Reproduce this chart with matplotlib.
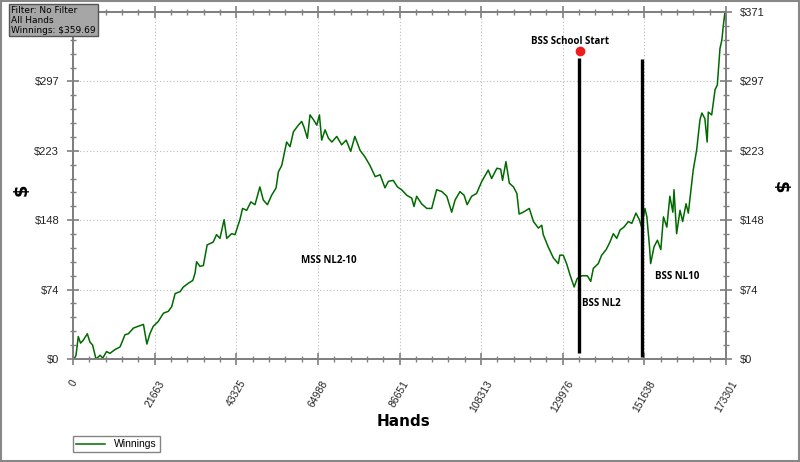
import matplotlib
matplotlib.use("Agg")
import matplotlib.pyplot as plt
from matplotlib.ticker import MultipleLocator, FixedLocator
import numpy as np

# winnings curve (hands, dollars)
hands = [300, 800, 1400, 2000, 2700, 3800, 4500, 5200, 6100, 7200, 7900, 8900, 9800,
         11100, 12500, 13800, 14700, 16000, 17300, 18700, 19600, 20400, 21300, 22600,
         24000, 25300, 26200, 27100, 28400, 29300, 30600, 31800, 32400, 32800, 33700,
         34600, 35600, 37200, 38100, 39000, 40100, 40800, 42100, 43000, 44300, 45000,
         46100, 47200, 48300, 49600, 50500, 51600, 52700, 53900, 54500, 55400, 56700,
         57600, 58500, 59800, 60700, 61300, 62200, 62900, 63800, 64700, 65400, 66000,
         66900, 67800, 68700, 70000, 71300, 72500, 73700, 74800, 76200, 77500, 78800,
         80200, 81500, 82800, 83700, 85000, 86100, 87200, 88600, 89900, 90500, 91200,
         92500, 93900, 95200, 96500, 97900, 99200, 100500, 101400, 102700, 103800,
         104600, 105800, 107100, 108500, 110200, 111100, 112500, 113500, 114000,
         114900, 115800, 116900, 117800, 118400, 119500, 121100, 122200, 123500,
         124400, 124800, 126100, 127500, 128800, 129200, 130100, 131000, 131900,
         133000, 133800, 135000, 136500, 137400, 138100, 139400, 140300, 141500,
         142500, 143400, 144300, 145200, 146200, 147400, 148300, 149400, 150300,
         150900, 151800, 152300, 153000, 153300, 154200, 155100, 156000, 156700,
         157600, 158400, 159200, 159500, 160200, 161100, 161800, 162700, 163300,
         163900, 164600, 165500, 166400, 166900, 167700, 168300, 168600, 169500,
         170400, 171000, 171700, 172200, 172600, 173000, 173301]
winnings = [0, 4, 24, 17, 20, 27, 18, 15, 0, 4, 1, 8, 6,
            10, 13, 26, 27, 33, 35, 37, 16, 27, 35, 40,
            49, 51, 56, 70, 72, 77, 81, 84, 92, 104, 99,
            100, 122, 125, 133, 129, 149, 129, 134, 133, 149, 161,
            159, 168, 165, 184, 170, 165, 175, 183, 200, 207, 232,
            227, 243, 250, 254, 248, 236, 261, 256, 250, 261, 234,
            245, 236, 232, 238, 229, 234, 222, 238, 223, 216, 207,
            195, 197, 183, 190, 191, 184, 181, 175, 172, 163, 174,
            166, 161, 161, 181, 179, 174, 157, 170, 179, 175,
            165, 174, 177, 190, 202, 193, 204, 203, 191,
            211, 188, 184, 177, 155, 157, 161, 147, 140,
            143, 133, 120, 108, 102, 111, 111, 102, 90,
            77, 86, 89, 89, 83, 97, 102, 111, 117,
            125, 134, 129, 138, 141, 147, 145, 156, 149,
            141, 161, 152, 120, 102, 120, 127, 117, 152,
            141, 174, 157, 181, 134, 159, 147, 166, 156,
            177, 202, 223, 256, 263, 257, 232, 264, 261,
            288, 293, 332, 341, 357, 370, 360]

x_ticks = [0, 21663, 43325, 64988, 86651, 108313, 129976, 151638, 173301]
y_ticks = [0, 74.2, 148.4, 222.6, 296.8, 371]
y_labels = ["$0", "$74", "$148", "$223", "$297", "$371"]

marker_hands = [134300, 151000]
marker_top = [322, 321]
marker_bottom = [6, 2]
notes = [("BSS School Start", 132000, 340), ("MSS NL2-10", 68000, 105),
         ("BSS NL2", 140100, 59), ("BSS NL10", 160300, 88)]
school_dot = (134600, 329)

tick_font = "Liberation Sans"

fig = plt.figure(figsize=(8, 4.62), dpi=100)
ax = fig.add_axes([0.09125, 0.2229, 0.81625, 0.7511])
ax2 = ax.twinx()

ax.plot(hands, winnings, color="#006a00", lw=1.1, label="Winnings", zorder=3)
ax.vlines(marker_hands, marker_bottom, marker_top, color="black", lw=2.4, zorder=4)
ax.plot(*school_dot, "o", color="#ee1c1c", ms=6, zorder=5)
for txt, hx, dy in notes:
    ax.text(hx, dy, txt, fontsize=7, fontweight="bold", family="Open Sans",
            ha="center", va="center", zorder=6)

for a in (ax, ax2):
    a.set_ylim(0, 371)
    a.yaxis.set_major_locator(FixedLocator(y_ticks))
    a.yaxis.set_minor_locator(MultipleLocator(371 / 25))
    a.tick_params(which="both", direction="inout", color="#808080")
    a.tick_params(which="major", length=8, width=1.2, pad=6)
    a.tick_params(which="minor", length=5, width=1)
    for s in a.spines.values():
        s.set_color("#808080")
        s.set_linewidth(1.4)

ax.set_xlim(0, 173301)
ax.xaxis.set_major_locator(FixedLocator(x_ticks))
ax.xaxis.set_minor_locator(MultipleLocator(173301 / 40))
ax.set_xticklabels([str(t) for t in x_ticks], rotation=60, ha="center", va="top",
                   fontsize=7.5, color="#222222", family=tick_font)
# left side: top label sits under the info box in the original
ax.set_yticklabels(y_labels[:-1] + [""], fontsize=8, color="#222222", family=tick_font)
ax2.set_yticklabels(y_labels, fontsize=8, color="#222222", family=tick_font)
ax.tick_params(axis="x", which="both", top=True, bottom=True)
ax.tick_params(axis="x", which="major", pad=10)
ax.grid(which="major", color="#bcbcbc", ls=(0, (1, 2)), lw=0.8)

fig.text(404 / 800, 1 - 421 / 462, "Hands", fontsize=11, fontweight="bold",
         ha="center", va="center")
fig.text(22 / 800, 1 - 190 / 462, "$", fontsize=13, fontweight="bold", rotation=90,
         ha="center", va="center")
fig.text(780 / 800, 1 - 187 / 462, "$", fontsize=13, fontweight="bold", rotation=-90,
         ha="center", va="center")

ax.legend(loc="upper left", bbox_to_anchor=(0.0, -0.222),
          frameon=True, fancybox=False, edgecolor="#666666", handlelength=2.8,
          borderpad=0.3, borderaxespad=0, prop={"family": tick_font, "size": 7.5})

fig.text(0.014, 0.988, "Filter: No Filter\nAll Hands\nWinnings: $359.69",
         fontsize=6.5, va="top", ha="left", linespacing=1.15, zorder=10,
         bbox=dict(boxstyle="square,pad=0.2", fc="#a6a6a6", ec="#555555", lw=1))

fig.patches.append(plt.Rectangle((0.001, 0.003), 0.998, 0.995, transform=fig.transFigure,
                                 fill=False, ec="#888888", lw=1.5))

fig.savefig("out.png", dpi=100)
